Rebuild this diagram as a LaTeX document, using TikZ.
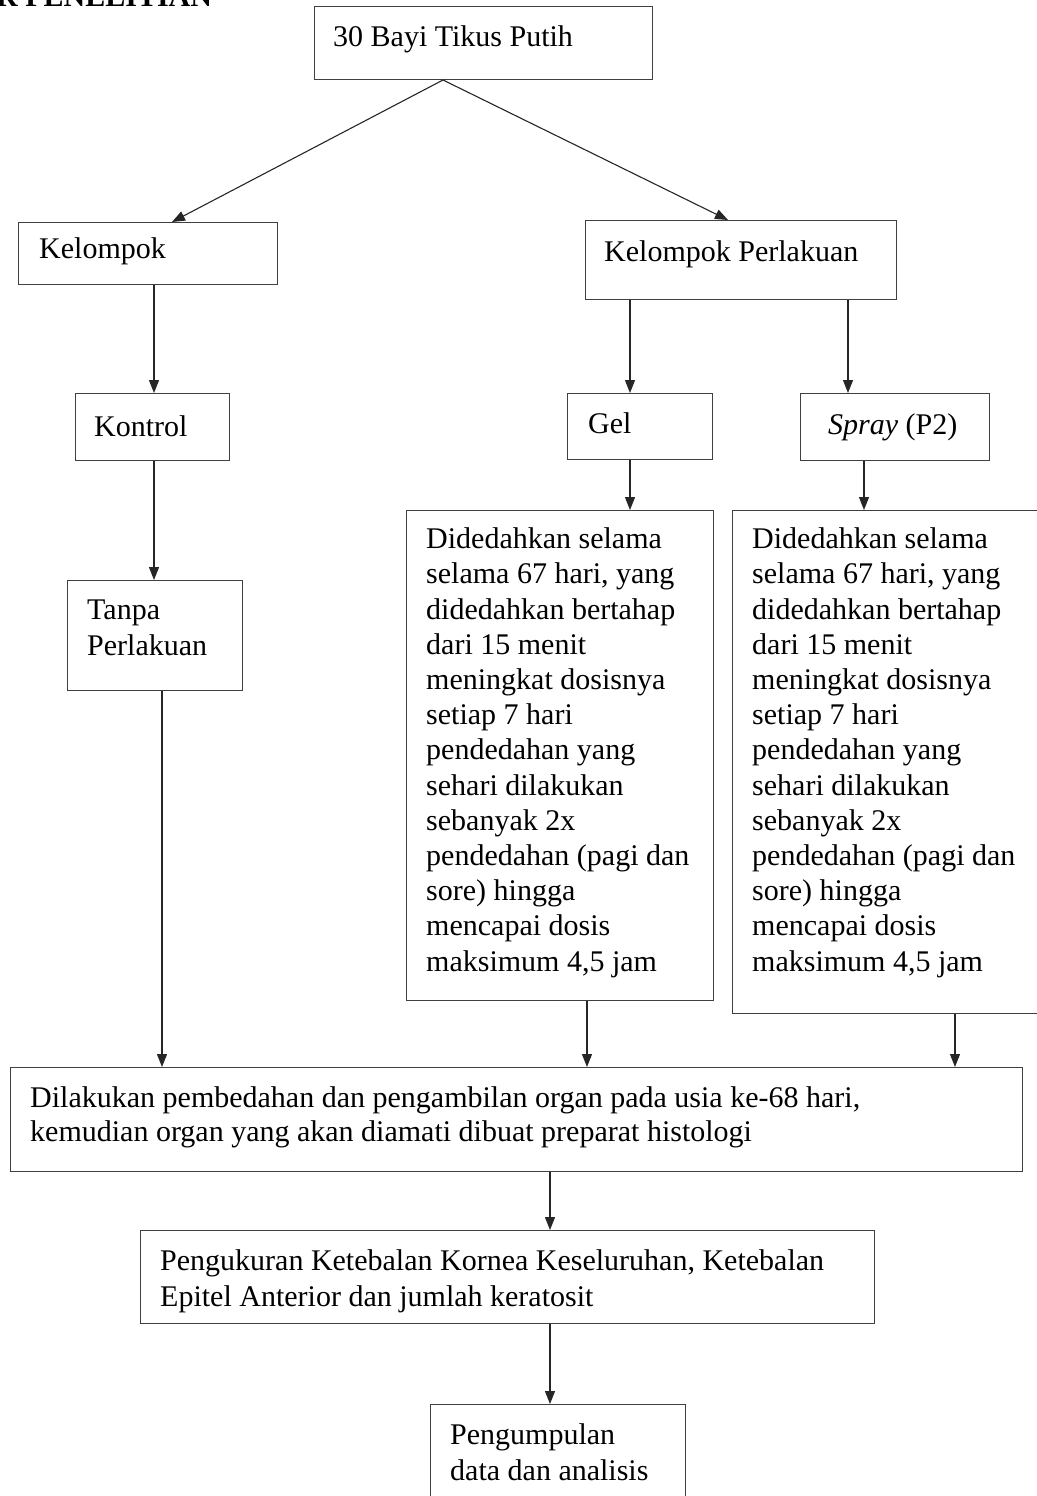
\documentclass[tikz,border=0pt]{standalone}
\usepackage{fontspec}
\setmainfont{Liberation Serif}
\usetikzlibrary{arrows.meta,calc}
\begin{document}
\begin{tikzpicture}[x=1pt,y=-1pt,
  box/.style={draw=black!75, line width=1pt, inner sep=0pt, anchor=north west},
  txt/.style={font=\fontsize{30}{35.2}\selectfont, anchor=base west, inner sep=0pt, align=left},
  arr/.style={-{Triangle[length=13pt,width=10pt]}, line width=1.1pt, draw=black!85}]
\useasboundingbox (0,0) rectangle (1036,1496);
% header (cut off)
\node[txt, font=\fontsize{30}{35}\selectfont\bfseries] (hdr) at (-4,7) {R PENELITIAN};
% boxes
\node[box, minimum width=338pt, minimum height=73pt] (top) at (314,6) {};
\node[box, minimum width=259pt, minimum height=62pt] (kel) at (18,222) {};
\node[box, minimum width=311pt, minimum height=79pt] (kp) at (585,220) {};
\node[box, minimum width=154pt, minimum height=67pt] (kon) at (75,393) {};
\node[box, minimum width=145pt, minimum height=66pt] (gel) at (567,393) {};
\node[box, minimum width=189pt, minimum height=67pt] (spr) at (800,393) {};
\node[box, minimum width=307pt, minimum height=490pt] (gtx) at (406,510) {};
\node[box, minimum width=310pt, minimum height=503pt] (stx) at (732,510) {};
\node[box, minimum width=175pt, minimum height=110pt] (tp) at (67,580) {};
\node[box, minimum width=1012pt, minimum height=104pt] (big) at (10,1067) {};
\node[box, minimum width=734pt, minimum height=93pt] (ukur) at (140,1230) {};
\node[box, minimum width=255pt, minimum height=100pt] (kumpul) at (430,1404) {};
% texts (anchor = baseline of last line)
\node[txt] (t1) at (333,47) {30 Bayi Tikus Putih};
\node[txt] (t2) at (39,258) {Kelompok};
\node[txt] (t3) at (604,261) {Kelompok Perlakuan};
\node[txt] (t4) at (94,436) {Kontrol};
\node[txt] (t5) at (588,433) {Gel};
\node[txt] (t6) at (828,434) {\textit{Spray} (P2)};
\node[txt] (t7) at (426,971) {Didedahkan selama\\selama 67 hari, yang\\didedahkan bertahap\\dari 15 menit\\meningkat dosisnya\\setiap 7 hari\\pendedahan yang\\sehari dilakukan\\sebanyak 2x\\pendedahan (pagi dan\\sore) hingga\\mencapai dosis\\maksimum 4,5 jam};
\node[txt] (t8) at (752,971) {Didedahkan selama\\selama 67 hari, yang\\didedahkan bertahap\\dari 15 menit\\meningkat dosisnya\\setiap 7 hari\\pendedahan yang\\sehari dilakukan\\sebanyak 2x\\pendedahan (pagi dan\\sore) hingga\\mencapai dosis\\maksimum 4,5 jam};
\node[txt] (t9) at (87,655) {Tanpa\\Perlakuan};
\node[txt, font=\fontsize{30}{34}\selectfont] (t10) at (30,1141) {Dilakukan pembedahan dan pengambilan organ pada usia ke-68 hari,\\kemudian organ yang akan diamati dibuat preparat histologi};
\node[txt] (t11) at (160,1306) {Pengukuran Ketebalan Kornea Keseluruhan, Ketebalan\\Epitel Anterior dan jumlah keratosit};
\node[txt] (t12) at (450,1480) {Pengumpulan\\data dan analisis};
% helper x positions
\coordinate (xa) at (443,0);
\coordinate (xb) at (172,0);
\coordinate (xc) at (728,0);
\coordinate (xd) at (154,0);
\coordinate (xe) at (630,0);
\coordinate (xf) at (848,0);
\coordinate (xg) at (864,0);
\coordinate (xh) at (162,0);
\coordinate (xi) at (587,0);
\coordinate (xj) at (955,0);
\coordinate (xk) at (550,0);
% connectors
\draw[arr] (top.south -| xa) -- (kel.north -| xb);
\draw[arr] (top.south -| xa) -- (kp.north -| xc);
\draw[arr] (kel.south -| xd) -- (kon.north -| xd);
\draw[arr] (kp.south -| xe) -- (gel.north -| xe);
\draw[arr] (kp.south -| xf) -- (spr.north -| xf);
\draw[arr] (kon.south -| xd) -- (tp.north -| xd);
\draw[arr] (gel.south -| xe) -- (gtx.north -| xe);
\draw[arr] (spr.south -| xg) -- (stx.north -| xg);
\draw[arr] (tp.south -| xh) -- (big.north -| xh);
\draw[arr] (gtx.south -| xi) -- (big.north -| xi);
\draw[arr] (stx.south -| xj) -- (big.north -| xj);
\draw[arr] (big.south -| xk) -- (ukur.north -| xk);
\draw[arr] (ukur.south -| xk) -- (kumpul.north -| xk);
\end{tikzpicture}
\end{document}
